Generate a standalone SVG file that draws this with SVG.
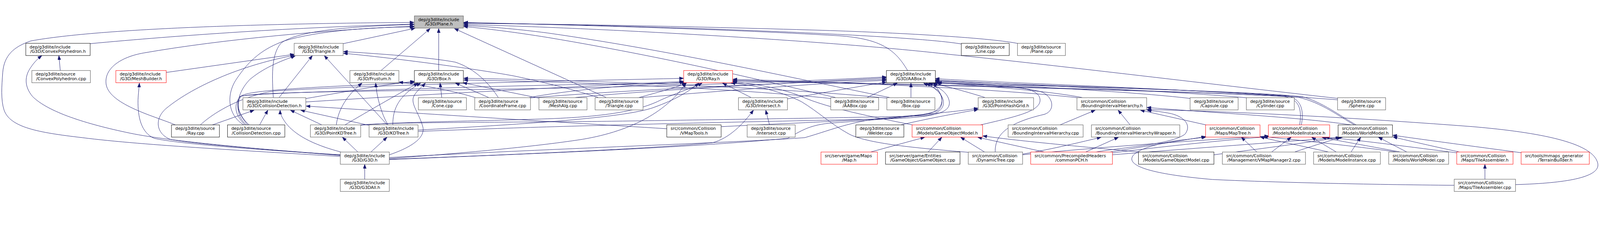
<svg xmlns="http://www.w3.org/2000/svg" width="4672" height="588" viewBox="0 0 4672 588" style="width:100vw;height:100vh;display:block">
<style>
.node rect{fill:#fff;stroke:#666666;stroke-width:1.3}
.node.k rect{stroke:#000;stroke-width:1.1}
.node.red rect{stroke:#ff0000;stroke-width:1.1}
.node.root rect{fill:#bfbfbf}
.node text{font-family:"DejaVu Sans",sans-serif;font-size:12.4px;fill:#000}
.node text.b{text-anchor:middle}
#edges path{fill:none;stroke:#191970;stroke-width:1.1;marker-end:url(#arr)}
</style>
<defs>
<marker id="arr" markerWidth="13" markerHeight="10" refX="12" refY="4.5" orient="auto" markerUnits="userSpaceOnUse"><path d="M0,0 L12,4.5 L0,9 z" fill="#191970" stroke="#191970" stroke-width="1"/></marker>
</defs>
<rect width="4672" height="588" fill="#fff"/>
<g id="edges">
<path d="M994,415 C760,400 420,383 240,360 C110,345 30,330 12,280 C2,250 5,210 8,170 C12,120 40,95 90,78 C300,40 800,27 1209,24"/>
<path d="M263,86 C520,62 860,38 1209,29"/>
<path d="M512,323 C460,300 320,265 310,205 C303,160 350,125 420,113 C650,73 960,45 1209,35"/>
<path d="M1002,86 L1212,41"/>
<path d="M798,243 C795,190 790,120 820,85 C870,45 1050,35 1209,30"/>
<path d="M712,323 C665,295 660,235 690,190 C730,130 770,100 830,78 C930,48 1080,38 1209,37"/>
<path d="M1113,164 L1256,42"/>
<path d="M1281,164 L1281,42"/>
<path d="M1770,243 L1327,42"/>
<path d="M2650,164 C2615,105 2575,72 2450,63 C2100,42 1600,30 1354,24"/>
<path d="M2808,87 C2650,60 1900,33 1354,25"/>
<path d="M2975,86 C2900,70 2650,55 2400,47 C2000,35 1600,28 1354,27"/>
<path d="M3910,246 C3500,200 3050,145 2770,117 C2450,80 1800,42 1354,30"/>
<path d="M2598,243 C2400,205 2000,112 1600,55 C1500,42 1420,36 1354,33"/>
<path d="M2440,243 C2300,212 2000,135 1600,68 C1500,52 1420,42 1354,36"/>
<path d="M176,164 L172,121"/>
<path d="M994,412 C780,395 500,372 380,347 C250,320 140,285 95,240 C70,210 72,180 90,155 C100,140 110,130 122,121"/>
<path d="M485,170 L859,117"/>
<path d="M994,411 C800,396 600,382 500,366 C455,350 450,305 485,275 C570,205 720,145 860,120"/>
<path d="M815,243 L912,121"/>
<path d="M1131,323 L947,121"/>
<path d="M1455,243 C1430,205 1390,160 1330,140 C1250,125 1100,115 1003,109"/>
<path d="M1747,243 C1700,228 1620,205 1500,180 C1380,158 1150,128 1003,114"/>
<path d="M720,323 C680,290 690,230 730,190 C760,165 800,143 862,122"/>
<path d="M982,323 C988,275 1015,235 1057,201"/>
<path d="M1133,323 C1113,290 1100,240 1097,201"/>
<path d="M1390,244 C1330,225 1240,208 1165,198"/>
<path d="M1290,243 L1285,201"/>
<path d="M1427,243 L1330,201"/>
<path d="M1575,245 L1352,200"/>
<path d="M893,246 C1000,228 1120,205 1210,196"/>
<path d="M1137,410 C1190,392 1242,365 1235,330 C1225,290 1198,262 1208,240 C1215,225 1232,212 1242,201"/>
<path d="M1007,323 C1080,280 1150,240 1220,201"/>
<path d="M1147,323 C1147,280 1160,240 1228,201"/>
<path d="M728,323 C700,300 685,262 705,238 C735,218 1000,210 1210,199"/>
<path d="M2592,245 C2300,215 1700,192 1354,187"/>
<path d="M2428,246 C2150,217 1700,197 1354,192"/>
<path d="M585,323 C620,290 700,240 800,224 C1100,205 1700,194 1996,187"/>
<path d="M2193,243 L2110,201"/>
<path d="M893,256 C1200,236 1700,210 1996,196"/>
<path d="M724,323 C695,292 688,262 700,240 C730,230 1100,222 1400,212 C1700,204 1900,201 2003,201"/>
<path d="M1545,243 C1700,215 1900,203 1998,199"/>
<path d="M1866,243 C1920,228 1970,215 2005,201"/>
<path d="M1221,338 C1500,322 1800,305 1900,275 C1960,255 2010,228 2040,201"/>
<path d="M1053,324 C1150,314 1400,312 1600,305 C1800,298 1880,275 1930,250 C1980,228 2030,212 2050,201"/>
<path d="M1137,421 C1350,405 1550,388 1700,365 C1850,340 1950,280 2003,201"/>
<path d="M2665,323 C2550,300 2420,275 2340,240 C2280,215 2200,203 2140,197"/>
<path d="M2830,403 C2700,392 2540,380 2480,350 C2425,320 2390,285 2340,255 C2270,220 2190,205 2135,201"/>
<path d="M3150,244 C2900,216 2400,196 2140,190"/>
<path d="M3795,323 C3802,278 3795,248 3750,240 C3450,222 2500,200 2140,193"/>
<path d="M3955,323 C3910,298 3860,258 3790,242 C3500,224 2500,202 2140,195"/>
<path d="M2532,243 L2620,201"/>
<path d="M2660,243 L2660,201"/>
<path d="M2299,247 C2400,230 2500,212 2588,198"/>
<path d="M2876,243 C2820,225 2760,210 2725,201"/>
<path d="M2863,323 C2960,300 3035,285 3037,252 C3038,225 3000,214 2940,210 C2850,205 2780,203 2733,200"/>
<path d="M2906,402 C2905,355 2935,318 3050,292 C3080,282 3078,245 3045,228 C2985,208 2800,204 2738,199"/>
<path d="M3478,246 C3300,225 2950,208 2731,196"/>
<path d="M3642,244 C3400,222 2950,205 2731,192"/>
<path d="M3909,250 C3500,218 2950,202 2731,188"/>
<path d="M3160,243 C3050,222 2850,208 2731,199"/>
<path d="M3800,323 C3808,280 3800,248 3760,238 C3500,220 2950,205 2731,194"/>
<path d="M3960,323 C3915,298 3860,255 3800,240 C3600,222 3000,208 2735,201"/>
<path d="M1680,243 C1900,222 2300,200 2588,186"/>
<path d="M1540,245 C1800,222 2300,200 2588,190"/>
<path d="M1860,244 C2100,225 2400,200 2588,193"/>
<path d="M716,323 C680,290 685,258 702,240 C740,226 1100,225 1500,218 C2000,210 2350,195 2588,183"/>
<path d="M1221,342 C1700,322 2300,312 2600,305 C2740,300 2775,285 2772,255 C2768,228 2740,212 2712,201"/>
<path d="M1053,323 C1150,314 1500,316 1800,312 C2200,306 2600,300 2700,296 C2755,290 2762,262 2750,240 C2740,222 2720,210 2705,201"/>
<path d="M1137,424 C1600,405 2000,390 2300,362 C2340,340 2360,325 2420,318 C2600,305 2700,298 2740,280 C2760,260 2750,230 2725,201"/>
<path d="M2106,328 C2300,318 2600,307 2700,293 C2760,283 2758,240 2738,222 C2722,210 2705,205 2697,201"/>
<path d="M2630,323 C2720,302 2800,288 2856,278"/>
<path d="M1137,418 C1600,392 2150,375 2350,360 C2420,340 2470,318 2560,305 C2700,292 2800,284 2856,274"/>
<path d="M758,323 L782,280"/>
<path d="M620,323 L742,280"/>
<path d="M940,323 L848,280"/>
<path d="M1077,324 L878,280"/>
<path d="M996,402 C910,380 860,350 835,318 C822,300 818,290 818,280"/>
<path d="M1947,334 C1600,313 1200,288 894,268"/>
<path d="M2247,323 L2236,280"/>
<path d="M1137,423 C1500,410 1900,392 2080,375 C2130,362 2170,320 2200,280"/>
<path d="M3095,323 L3198,280"/>
<path d="M3300,323 L3265,280"/>
<path d="M3522,323 L3330,280"/>
<path d="M3945,323 C3800,300 3500,285 3349,272"/>
<path d="M4425,497 C4600,492 4680,470 4664,430 C4645,375 4500,345 4300,328 C4000,305 3650,285 3349,278"/>
<path d="M3200,402 C3280,388 3420,380 3460,350 C3480,325 3460,300 3420,290 C3390,284 3370,282 3350,281"/>
<path d="M2986,408 C3080,392 3160,372 3215,359"/>
<path d="M3170,402 L3266,359"/>
<path d="M2542,402 L2700,359"/>
<path d="M2710,402 L2750,359"/>
<path d="M2875,402 L2805,359"/>
<path d="M3050,402 L2855,359"/>
<path d="M3330,402 C3150,386 2960,368 2870,355"/>
<path d="M3670,402 L3625,359"/>
<path d="M3880,402 C3800,384 3720,368 3680,358"/>
<path d="M4080,402 C3950,384 3780,366 3690,357"/>
<path d="M3240,402 C3350,385 3450,368 3520,357"/>
<path d="M4247,499 C4000,497 3700,490 3540,482 C3400,470 3300,450 3305,420 C3310,392 3400,374 3440,368 C3480,364 3500,361 3522,358"/>
<path d="M3902,402 L3830,359"/>
<path d="M3713,402 L3770,359"/>
<path d="M4090,402 C4000,385 3900,368 3860,359"/>
<path d="M2986,410 C3200,388 3500,368 3704,355"/>
<path d="M3245,405 C3400,385 3600,365 3706,357"/>
<path d="M4260,405 C4100,385 3950,365 3870,359"/>
<path d="M3945,402 L3973,359"/>
<path d="M4108,402 L4025,359"/>
<path d="M4262,402 C4170,382 4100,366 4068,358"/>
<path d="M3545,410 C3700,390 3850,370 3912,359"/>
<path d="M3780,402 C3830,385 3880,370 3915,359"/>
<path d="M3248,410 C3500,390 3800,368 3920,359"/>
<path d="M4442,404 C4300,385 4150,365 4067,353"/>
<path d="M1065,481 L1065,438"/>
<path d="M1045,402 L1000,359"/>
<path d="M1083,402 L1130,359"/>
<path d="M994,410 C760,396 520,378 450,362 C412,345 402,300 403,250 C404,230 406,215 407,201"/>
<path d="M4336,481 L4336,438"/>
</g>
<g id="n0" class="node root"><rect x="1210" y="5" width="143" height="35.6"/><text x="1221.2" y="19.8">dep/g3dlite/include</text><text class="b" x="1281.5" y="32.8">/G3D/Plane.h</text></g>
<g id="n1" class="node k"><rect x="75.3" y="85" width="188" height="35.6"/><text x="86.5" y="99.8">dep/g3dlite/include</text><text class="b" x="169.3" y="112.8">/G3D/ConvexPolyhedron.h</text></g>
<g id="n2" class="node"><rect x="859" y="85" width="143" height="35.6"/><text x="870.2" y="99.8">dep/g3dlite/include</text><text class="b" x="930.5" y="112.8">/G3D/Triangle.h</text></g>
<g id="n3" class="node k"><rect x="2807" y="85" width="140" height="35.6"/><text x="2818.2" y="99.8">dep/g3dlite/source</text><text class="b" x="2877" y="112.8">/Line.cpp</text></g>
<g id="n4" class="node"><rect x="2971" y="85" width="140" height="35.6"/><text x="2982.2" y="99.8">dep/g3dlite/source</text><text class="b" x="3041" y="112.8">/Plane.cpp</text></g>
<g id="n5" class="node"><rect x="93" y="164.3" width="171" height="35.6"/><text x="104.2" y="179.1">dep/g3dlite/source</text><text class="b" x="178.5" y="192.1">/ConvexPolyhedron.cpp</text></g>
<g id="n6" class="node red"><rect x="338.3" y="164.3" width="147" height="35.6"/><text x="349.5" y="179.1">dep/g3dlite/include</text><text class="b" x="411.8" y="192.1">/G3D/MeshBuilder.h</text></g>
<g id="n7" class="node"><rect x="1021.7" y="164.3" width="143" height="35.6"/><text x="1032.9" y="179.1">dep/g3dlite/include</text><text class="b" x="1093.2" y="192.1">/G3D/Frustum.h</text></g>
<g id="n8" class="node k"><rect x="1210" y="164.3" width="143" height="35.6"/><text x="1221.2" y="179.1">dep/g3dlite/include</text><text class="b" x="1281.5" y="192.1">/G3D/Box.h</text></g>
<g id="n9" class="node red"><rect x="1996.3" y="164.3" width="143" height="35.6"/><text x="2007.5" y="179.1">dep/g3dlite/include</text><text class="b" x="2067.8" y="192.1">/G3D/Ray.h</text></g>
<g id="n10" class="node k"><rect x="2588.3" y="164.3" width="143" height="35.6"/><text x="2599.5" y="179.1">dep/g3dlite/include</text><text class="b" x="2659.8" y="192.1">/G3D/AABox.h</text></g>
<g id="n11" class="node"><rect x="709.3" y="243.5" width="183.7" height="35.6"/><text x="720.5" y="258.3">dep/g3dlite/include</text><text class="b" x="801.2" y="271.3">/G3D/CollisionDetection.h</text></g>
<g id="n12" class="node"><rect x="1221.7" y="243.5" width="140.3" height="35.6"/><text x="1232.9" y="258.3">dep/g3dlite/source</text><text class="b" x="1291.8" y="271.3">/Cone.cpp</text></g>
<g id="n13" class="node"><rect x="1386.3" y="243.5" width="162.7" height="35.6"/><text x="1397.5" y="258.3">dep/g3dlite/source</text><text class="b" x="1467.7" y="271.3">/CoordinateFrame.cpp</text></g>
<g id="n14" class="node"><rect x="1573.7" y="243.5" width="140.3" height="35.6"/><text x="1584.9" y="258.3">dep/g3dlite/source</text><text class="b" x="1643.8" y="271.3">/MeshAlg.cpp</text></g>
<g id="n15" class="node"><rect x="1737.7" y="243.5" width="140" height="35.6"/><text x="1748.9" y="258.3">dep/g3dlite/source</text><text class="b" x="1807.7" y="271.3">/Triangle.cpp</text></g>
<g id="n16" class="node"><rect x="2156.3" y="243.5" width="143" height="35.6"/><text x="2167.5" y="258.3">dep/g3dlite/include</text><text class="b" x="2227.8" y="271.3">/G3D/Intersect.h</text></g>
<g id="n17" class="node"><rect x="2425.7" y="243.5" width="140" height="35.6"/><text x="2436.9" y="258.3">dep/g3dlite/source</text><text class="b" x="2495.7" y="271.3">/AABox.cpp</text></g>
<g id="n18" class="node"><rect x="2589.7" y="243.5" width="140.3" height="35.6"/><text x="2600.9" y="258.3">dep/g3dlite/source</text><text class="b" x="2659.8" y="271.3">/Box.cpp</text></g>
<g id="n19" class="node"><rect x="2856.3" y="243.5" width="161.7" height="35.6"/><text x="2867.5" y="258.3">dep/g3dlite/include</text><text class="b" x="2937.2" y="271.3">/G3D/PointHashGrid.h</text></g>
<g id="n20" class="node"><rect x="3144.7" y="243.5" width="203.6" height="35.6"/><text x="3155.9" y="258.3">src/common/Collision</text><text class="b" x="3246.5" y="271.3">/BoundingIntervalHierarchy.h</text></g>
<g id="n21" class="node"><rect x="3475" y="243.5" width="140.3" height="35.6"/><text x="3486.2" y="258.3">dep/g3dlite/source</text><text class="b" x="3545.2" y="271.3">/Capsule.cpp</text></g>
<g id="n22" class="node"><rect x="3639.3" y="243.5" width="140" height="35.6"/><text x="3650.5" y="258.3">dep/g3dlite/source</text><text class="b" x="3709.3" y="271.3">/Cylinder.cpp</text></g>
<g id="n23" class="node"><rect x="3905.7" y="243.5" width="140.3" height="35.6"/><text x="3916.9" y="258.3">dep/g3dlite/source</text><text class="b" x="3975.8" y="271.3">/Sphere.cpp</text></g>
<g id="n24" class="node k"><rect x="500.7" y="322.8" width="140" height="35.6"/><text x="511.9" y="337.6">dep/g3dlite/source</text><text class="b" x="570.7" y="350.6">/Ray.cpp</text></g>
<g id="n25" class="node k"><rect x="664.3" y="322.8" width="167.4" height="35.6"/><text x="675.5" y="337.6">dep/g3dlite/source</text><text class="b" x="748" y="350.6">/CollisionDetection.cpp</text></g>
<g id="n26" class="node"><rect x="906.3" y="322.8" width="147" height="35.6"/><text x="917.5" y="337.6">dep/g3dlite/include</text><text class="b" x="979.8" y="350.6">/G3D/PointKDTree.h</text></g>
<g id="n27" class="node"><rect x="1077.7" y="322.8" width="143" height="35.6"/><text x="1088.9" y="337.6">dep/g3dlite/include</text><text class="b" x="1149.2" y="350.6">/G3D/KDTree.h</text></g>
<g id="n28" class="node k"><rect x="1947" y="322.8" width="158.7" height="35.6"/><text x="1958.2" y="337.6">src/common/Collision</text><text class="b" x="2026.3" y="350.6">/VMapTools.h</text></g>
<g id="n29" class="node"><rect x="2181.7" y="322.8" width="140.3" height="35.6"/><text x="2192.9" y="337.6">dep/g3dlite/source</text><text class="b" x="2251.8" y="350.6">/Intersect.cpp</text></g>
<g id="n30" class="node k"><rect x="2499" y="322.8" width="140.3" height="35.6"/><text x="2510.2" y="337.6">dep/g3dlite/source</text><text class="b" x="2569.2" y="350.6">/Welder.cpp</text></g>
<g id="n31" class="node red"><rect x="2663.3" y="322.8" width="206" height="35.6"/><text x="2674.5" y="337.6">src/common/Collision</text><text class="b" x="2766.3" y="350.6">/Models/GameObjectModel.h</text></g>
<g id="n32" class="node"><rect x="2943.7" y="322.8" width="219" height="35.6"/><text x="2954.9" y="337.6">src/common/Collision</text><text class="b" x="3053.2" y="350.6">/BoundingIntervalHierarchy.cpp</text></g>
<g id="n33" class="node"><rect x="3187" y="322.8" width="258" height="35.6"/><text x="3198.2" y="337.6">src/common/Collision</text><text class="b" x="3316" y="350.6">/BoundingIntervalHierarchyWrapper.h</text></g>
<g id="n34" class="node red"><rect x="3520.3" y="322.8" width="159" height="35.6"/><text x="3531.5" y="337.6">src/common/Collision</text><text class="b" x="3599.8" y="350.6">/Maps/MapTree.h</text></g>
<g id="n35" class="node red"><rect x="3703.7" y="322.8" width="179" height="35.6"/><text x="3714.9" y="337.6">src/common/Collision</text><text class="b" x="3793.2" y="350.6">/Models/ModelInstance.h</text></g>
<g id="n36" class="node k"><rect x="3907.3" y="322.8" width="158.7" height="35.6"/><text x="3918.5" y="337.6">src/common/Collision</text><text class="b" x="3986.7" y="350.6">/Models/WorldModel.h</text></g>
<g id="n37" class="node"><rect x="993.7" y="402" width="143" height="35.6"/><text x="1004.9" y="416.8">dep/g3dlite/include</text><text class="b" x="1065.2" y="429.8">/G3D/G3D.h</text></g>
<g id="n38" class="node red"><rect x="2397.3" y="402" width="164.7" height="35.6"/><text x="2408.5" y="416.8">src/server/game/Maps</text><text class="b" x="2479.7" y="429.8">/Map.h</text></g>
<g id="n39" class="node k"><rect x="2585.7" y="402" width="217.6" height="35.6"/><text x="2596.9" y="416.8">src/server/game/Entities</text><text class="b" x="2694.5" y="429.8">/GameObject/GameObject.cpp</text></g>
<g id="n40" class="node"><rect x="2827.3" y="402" width="158.7" height="35.6"/><text x="2838.5" y="416.8">src/common/Collision</text><text class="b" x="2906.7" y="429.8">/DynamicTree.cpp</text></g>
<g id="n41" class="node red"><rect x="3009.7" y="402" width="238.6" height="35.6"/><text x="3020.9" y="416.8">src/common/PrecompiledHeaders</text><text class="b" x="3129" y="429.8">/commonPCH.h</text></g>
<g id="n42" class="node k"><rect x="3324.3" y="402" width="220.4" height="35.6"/><text x="3335.5" y="416.8">src/common/Collision</text><text class="b" x="3434.5" y="429.8">/Models/GameObjectModel.cpp</text></g>
<g id="n43" class="node"><rect x="3569.3" y="402" width="242.7" height="35.6"/><text x="3580.5" y="416.8">src/common/Collision</text><text class="b" x="3690.7" y="429.8">/Management/VMapManager2.cpp</text></g>
<g id="n44" class="node"><rect x="3835.7" y="402" width="195" height="35.6"/><text x="3846.9" y="416.8">src/common/Collision</text><text class="b" x="3933.2" y="429.8">/Models/ModelInstance.cpp</text></g>
<g id="n45" class="node"><rect x="4055" y="402" width="175" height="35.6"/><text x="4066.2" y="416.8">src/common/Collision</text><text class="b" x="4142.5" y="429.8">/Models/WorldModel.cpp</text></g>
<g id="n46" class="node red"><rect x="4253.7" y="402" width="164.3" height="35.6"/><text x="4264.9" y="416.8">src/common/Collision</text><text class="b" x="4335.8" y="429.8">/Maps/TileAssembler.h</text></g>
<g id="n47" class="node red"><rect x="4441.7" y="402" width="199" height="35.6"/><text x="4452.9" y="416.8">src/tools/mmaps_generator</text><text class="b" x="4541.2" y="429.8">/TerrainBuilder.h</text></g>
<g id="n48" class="node"><rect x="993.7" y="481.3" width="143" height="35.6"/><text x="1004.9" y="496.1">dep/g3dlite/include</text><text class="b" x="1065.2" y="509.1">/G3D/G3DAll.h</text></g>
<g id="n49" class="node"><rect x="4246.3" y="481.3" width="179" height="35.6"/><text x="4257.5" y="496.1">src/common/Collision</text><text class="b" x="4335.8" y="509.1">/Maps/TileAssembler.cpp</text></g>
</svg>
